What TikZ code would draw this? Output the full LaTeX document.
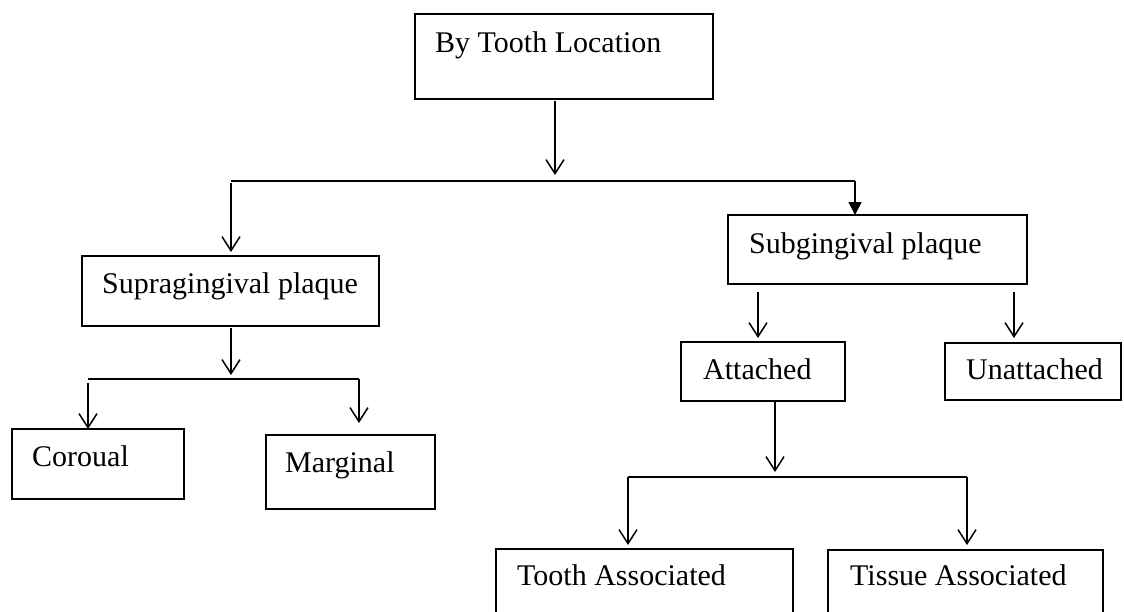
\documentclass[tikz,border=0pt]{standalone}
\usepackage{fontspec}
\setmainfont{Liberation Serif}
\usetikzlibrary{arrows.meta,calc}
\begin{document}
\begin{tikzpicture}[x=1pt,y=-1pt,
  box/.style={draw, line width=1.7pt, inner sep=0pt, outer sep=0pt, anchor=north west},
  lbl/.style={anchor=base west, inner sep=0pt, font=\fontsize{30}{36}\selectfont},
  arr/.style={line width=1.5pt, -{Straight Barb[length=14pt,width=18pt,line width=1.5pt]}},
  filledarr/.style={line width=1.5pt, -{Triangle[length=13pt,width=13pt]}},
  link/.style={line width=1.5pt}]
\useasboundingbox (0,0) rectangle (1124,611);
\clip (0,0) rectangle (1124,611);
% boxes
\node[box, minimum width=298pt, minimum height=85pt] (top) at (415,14) {};
\node[box, minimum width=297pt, minimum height=70pt] (sup) at (82,256) {};
\node[box, minimum width=299pt, minimum height=69pt] (sub) at (728,215) {};
\node[box, minimum width=172pt, minimum height=70pt] (cor) at (12,429) {};
\node[box, minimum width=169pt, minimum height=74pt] (mar) at (266,435) {};
\node[box, minimum width=164pt, minimum height=59pt] (att) at (681,342) {};
\node[box, minimum width=176pt, minimum height=57pt] (una) at (945,343) {};
\node[box, minimum width=297pt, minimum height=100pt] (tth) at (496,549) {};
\node[box, minimum width=275pt, minimum height=100pt] (tis) at (828,550) {};
% texts
\node[lbl] (ttop) at (435,52) {By Tooth Location};
\node[lbl] (tsup) at (102,293) {Supragingival plaque};
\node[lbl] (tsub) at (749,253) {Subgingival plaque};
\node[lbl] (tcor) at (32,466) {Coroual};
\node[lbl] (tmar) at (285,472) {Marginal};
\node[lbl] (tatt) at (703,379) {Attached};
\node[lbl] (tuna) at (966,379) {Unattached};
\node[lbl] (ttth) at (517,585) {Tooth Associated};
\node[lbl] (ttis) at (850,585) {Tissue Associated};
% junction coordinates
\coordinate (c0) at (555,175);
\coordinate (bl) at (231,181);
\coordinate (br) at (855,181);
\coordinate (c1) at (231,375);
\coordinate (l1) at (88,379);
\coordinate (r1) at (359,379);
\coordinate (c2) at (758,338);
\coordinate (c3) at (1014,338);
\coordinate (c4) at (775,472);
\coordinate (l2) at (628,477);
\coordinate (r2) at (967,477);
% connectors
\draw[arr] ($(top.south -| c0)+(0,2)$) -- (c0);
\draw[link] (bl) -- (br);
\draw[arr] ($(bl)+(0,2)$) -- ($(sup.north -| bl)+(0,-4)$);
\draw[filledarr] (br) -- (sub.north -| br);
\draw[arr] ($(sup.south -| c1)+(0,2)$) -- (c1);
\draw[link] (l1) -- (r1);
\draw[arr] ($(l1)+(0,4)$) -- (cor.north -| l1);
\draw[arr] (r1) -- ($(mar.north -| r1)+(0,-12)$);
\draw[arr] ($(sub.south -| c2)+(0,8)$) -- (c2);
\draw[arr] ($(sub.south -| c3)+(0,8)$) -- (c3);
\draw[arr] (att.south -| c4) -- (c4);
\draw[link] (l2) -- (r2);
\draw[arr] (l2) -- ($(tth.north -| l2)+(0,-4)$);
\draw[arr] (r2) -- ($(tis.north -| r2)+(0,-5)$);
\end{tikzpicture}
\end{document}
